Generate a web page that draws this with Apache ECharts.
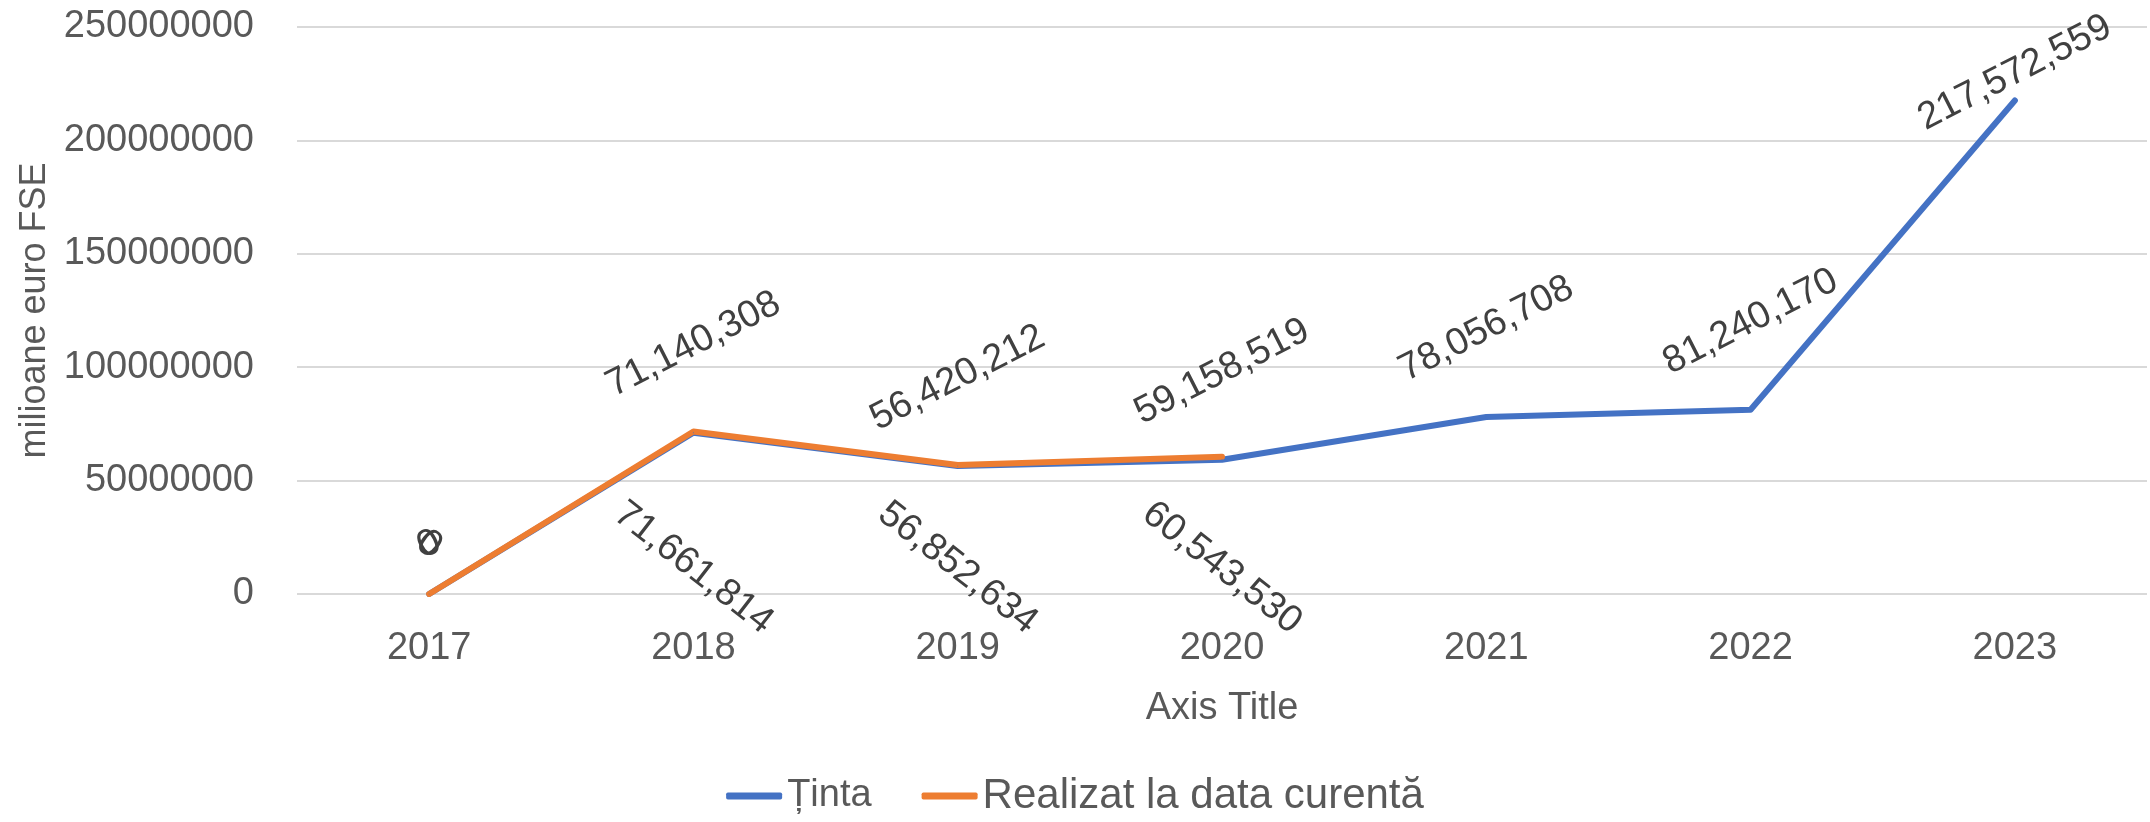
<!DOCTYPE html>
<html><head><meta charset="utf-8">
<script src="https://cdn.jsdelivr.net/npm/echarts@6/dist/echarts.min.js"></script>
<style>html,body{margin:0;padding:0;background:#fff}#c{width:2150px;height:822px}</style>
</head><body><div id="c"></div>
<script>
const categories = ['2017', '2018', '2019', '2020', '2021', '2022', '2023'];
const tinta = [0, 71140308, 56420212, 59158519, 78056708, 81240170, 217572559];
const realizat = [0, 71661814, 56852634, 60543530, null, null, null];
const seriesNames = ['Ținta', 'Realizat la data curentă'];
const yMin = 0, yMax = 250000000, yStep = 50000000;
const yAxisName = 'milioane euro FSE';
const xAxisName = 'Axis Title';

const FONT = "'Liberation Sans', Arial, sans-serif";
const TEXT = '#595959';
const LABEL = '#404040';
const BLUE = '#4472C4', ORANGE = '#ED7D31';
const W = 2150, H = 822;
const GRID = { left: 297, right: 3, top: 27, bottom: 228 };

function fmt(v) { return Number(v).toLocaleString('en-US'); }

function layout(params) {
  const r = params.labelRect, s = params.rect;
  const px = s.x + s.width / 2, py = s.y + s.height / 2;
  const below = params.seriesIndex === 1 && params.dataIndex !== 0;
  let cy;
  if (below) {
    // Excel puts these rotated "below" labels in a band just above the category axis
    cy = Math.max(py + 20 + r.height / 2, (H - GRID.bottom) - 26);
  } else {
    cy = py - 28 - r.height / 2;
    const topLimit = 8;
    if (cy - r.height / 2 < topLimit) cy = topLimit + r.height / 2;
  }
  return { x: px, y: cy, align: 'center', verticalAlign: 'middle' };
}

const chart = echarts.init(document.getElementById('c'), null, { renderer: 'canvas' });
chart.setOption({
  animation: false,
  backgroundColor: '#fff',
  textStyle: { fontFamily: FONT },
  grid: Object.assign({ containLabel: false }, GRID),
  xAxis: {
    type: 'category', data: categories, boundaryGap: true,
    axisLine: { show: false }, axisTick: { show: false },
    axisLabel: { color: TEXT, fontSize: 38, fontFamily: FONT, margin: 36 },
    name: xAxisName, nameLocation: 'middle', nameGap: 96,
    nameTextStyle: { color: TEXT, fontSize: 38, fontFamily: FONT }
  },
  yAxis: {
    type: 'value', min: yMin, max: yMax, interval: yStep,
    axisLine: { show: false }, axisTick: { show: false },
    axisLabel: { color: TEXT, fontSize: 38, fontFamily: FONT, margin: 43, formatter: v => String(v) },
    splitLine: { lineStyle: { color: '#D9D9D9', width: 2 } },
    name: yAxisName, nameLocation: 'middle', nameGap: 240, nameRotate: 90,
    nameTextStyle: { color: TEXT, fontSize: 36, fontFamily: FONT }
  },
  legend: {
    bottom: 0, left: 'center', itemWidth: 56, itemHeight: 7, itemGap: 50,
    icon: 'roundRect',
    formatter: n => n === seriesNames[0] ? '{a|' + n + '}' : '{b|' + n + '}',
    textStyle: {
      color: TEXT, fontFamily: FONT,
      rich: { a: { fontSize: 38, color: TEXT, fontFamily: FONT }, b: { fontSize: 42, color: TEXT, fontFamily: FONT } }
    },
    data: seriesNames
  },
  series: [
    {
      name: seriesNames[0], type: 'line', data: tinta,
      symbol: 'circle', symbolSize: 1, showSymbol: true,
      lineStyle: { color: BLUE, width: 6, cap: 'round', join: 'round' },
      itemStyle: { color: BLUE },
      label: { show: true, position: 'top', rotate: 27, color: LABEL, fontSize: 38, fontFamily: FONT, formatter: p => fmt(p.value) },
      labelLayout: layout
    },
    {
      name: seriesNames[1], type: 'line', data: realizat,
      symbol: 'circle', symbolSize: 1, showSymbol: true,
      lineStyle: { color: ORANGE, width: 6, cap: 'round', join: 'round' },
      itemStyle: { color: ORANGE },
      label: { show: true, position: 'bottom', rotate: -38, color: LABEL, fontSize: 38, fontFamily: FONT, formatter: p => fmt(p.value) },
      labelLayout: layout
    }
  ]
});
</script></body></html>
